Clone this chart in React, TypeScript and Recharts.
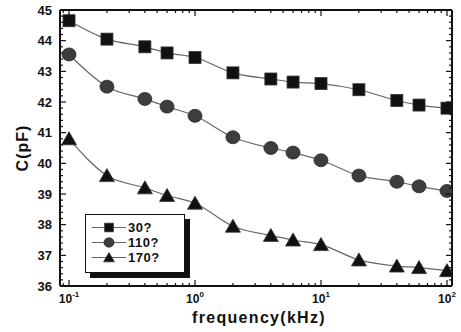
import React from 'react';
import { LineChart, Line, XAxis, YAxis } from 'recharts';

// frequency in kHz, capacitance in pF
const frequency = [0.1, 0.2, 0.4, 0.6, 1, 2, 4, 6, 10, 20, 40, 60, 100];
const c30 = [44.65, 44.05, 43.8, 43.6, 43.45, 42.95, 42.75, 42.65, 42.6, 42.4, 42.05, 41.9, 41.8];
const c110 = [43.55, 42.5, 42.1, 41.85, 41.55, 40.85, 40.5, 40.35, 40.1, 39.6, 39.4, 39.25, 39.1];
const c170 = [40.8, 39.6, 39.2, 38.95, 38.7, 37.95, 37.65, 37.5, 37.35, 36.85, 36.65, 36.6, 36.5];
const seriesNames = ['30?', '110?', '170?'];

const xMajorTicks = [0.1, 1, 10, 100];
const xTickExponents = ['-1', '0', '1', '2'];
const yMajorTicks = [36, 37, 38, 39, 40, 41, 42, 43, 44, 45];

const xMinorTicks: number[] = [0.09];
[0.1, 1, 10].forEach((d) => {
  for (let m = 2; m <= 9; m++) xMinorTicks.push(d * m);
});
const yMinorTicks: number[] = [];
yMajorTicks.slice(0, -1).forEach((v) => {
  for (let k = 1; k <= 4; k++) yMinorTicks.push(v + k * 0.2);
});

const xTicks = [...xMajorTicks, ...xMinorTicks].sort((a, b) => a - b);
const yTicks = [...yMajorTicks, ...yMinorTicks].sort((a, b) => a - b);

const data = frequency.map((f, i) => ({ f, c30: c30[i], c110: c110[i], c170: c170[i] }));

const FONT = '"Liberation Sans", Arial, sans-serif';
const INK = '#111';
const MAJOR = 6;
const MINOR = 3;

const isMajorX = (v: number) => xMajorTicks.indexOf(v) >= 0;
const isMajorY = (v: number) => yMajorTicks.indexOf(v) >= 0;

const BottomTick = ({ x, y, payload }: any) => {
  const v = payload.value;
  const idx = xMajorTicks.indexOf(v);
  const len = idx >= 0 ? MAJOR : MINOR;
  return (
    <g>
      <line x1={x} y1={y} x2={x} y2={y - len} stroke={INK} strokeWidth={1.2} />
      {idx >= 0 && (
        <text x={x} y={y + 17} textAnchor="middle" fontFamily={FONT} fontWeight="bold" fontSize={12} fill={INK}>
          10
          <tspan fontSize={8} dy={-6}>{xTickExponents[idx]}</tspan>
        </text>
      )}
    </g>
  );
};

const TopTick = ({ x, y, payload }: any) => {
  const len = isMajorX(payload.value) ? MAJOR : MINOR;
  return <line x1={x} y1={y} x2={x} y2={y + len} stroke={INK} strokeWidth={1.2} />;
};

const LeftTick = ({ x, y, payload }: any) => {
  const v = payload.value;
  const major = isMajorY(v);
  return (
    <g>
      <line x1={x} y1={y} x2={x + (major ? MAJOR : MINOR)} y2={y} stroke={INK} strokeWidth={1.2} />
      {major && (
        <text x={x - 8} y={y + 4.5} textAnchor="end" fontFamily={FONT} fontWeight="bold" fontSize={13} fill={INK}>
          {v}
        </text>
      )}
    </g>
  );
};

const RightTick = ({ x, y, payload }: any) => {
  const len = isMajorY(payload.value) ? MAJOR : MINOR;
  return <line x1={x} y1={y} x2={x - len} y2={y} stroke={INK} strokeWidth={1.2} />;
};

const SquareMark = ({ cx, cy, s = 1 }: any) => (
  <rect x={cx - 6 * s} y={cy - 6 * s} width={12 * s} height={12 * s} fill={INK} stroke="#333" strokeWidth={0.8} />
);
const CircleMark = ({ cx, cy, s = 1 }: any) => (
  <ellipse cx={cx} cy={cy} rx={7 * s} ry={6.5 * s} fill="#3d3d3d" stroke="#2a2a2a" strokeWidth={0.8} />
);
const TriangleMark = ({ cx, cy, s = 1 }: any) => (
  <polygon
    points={`${cx},${cy - 7 * s} ${cx + 7.5 * s},${cy + 6 * s} ${cx - 7.5 * s},${cy + 6 * s}`}
    fill={INK}
    stroke="#333"
    strokeWidth={0.8}
  />
);

const markers = [SquareMark, CircleMark, TriangleMark];
const keys = ['c30', 'c110', 'c170'];

const LegendBox = () => (
  <div
    style={{
      position: 'absolute',
      left: 85,
      top: 214,
      width: 100,
      height: 59,
      border: `1px solid ${INK}`,
      background: '#fff',
      boxShadow: `5px 5px 0 ${INK}`,
      paddingTop: 5,
      boxSizing: 'border-box',
    }}
  >
    {seriesNames.map((name, i) => {
      const Mark = markers[i];
      return (
        <div key={name} style={{ display: 'flex', alignItems: 'center', height: 15, marginLeft: 6 }}>
          <svg width={34} height={15}>
            <line x1={0} y1={7.5} x2={34} y2={7.5} stroke="#666" strokeWidth={1.2} />
            <Mark cx={17} cy={7.5} s={0.72} />
          </svg>
          <span style={{ fontFamily: FONT, fontWeight: 'bold', fontSize: 13, letterSpacing: 0.5, color: INK, marginLeft: 2 }}>
            {name}
          </span>
        </div>
      );
    })}
  </div>
);

export default function App() {
  return (
    <div style={{ position: 'absolute', left: 0, top: 0, width: 461, height: 332, background: '#fff' }}>
      <LineChart width={461} height={332} data={data} margin={{ top: 0, right: 0, bottom: 0, left: 0 }}>
        <XAxis
          xAxisId={0}
          dataKey="f"
          type="number"
          scale="log"
          domain={[0.0848, 109.6]}
          allowDataOverflow
          ticks={xTicks}
          interval={0}
          tickSize={0}
          tickMargin={0}
          height={46}
          axisLine={{ stroke: INK, strokeWidth: 2 }}
          tickLine={false}
          tick={<BottomTick />}
        />
        <XAxis
          xAxisId="top"
          orientation="top"
          dataKey="f"
          type="number"
          scale="log"
          domain={[0.0848, 109.6]}
          allowDataOverflow
          ticks={xTicks}
          interval={0}
          tickSize={0}
          tickMargin={0}
          height={10}
          axisLine={{ stroke: INK, strokeWidth: 2 }}
          tickLine={false}
          tick={<TopTick />}
        />
        <YAxis
          yAxisId={0}
          type="number"
          domain={[36, 45]}
          allowDataOverflow
          ticks={yTicks}
          interval={0}
          tickSize={0}
          tickMargin={0}
          width={60}
          axisLine={{ stroke: INK, strokeWidth: 2 }}
          tickLine={false}
          tick={<LeftTick />}
          label={{
            value: 'C(pF)',
            angle: -90,
            position: 'insideLeft',
            offset: 22,
            style: { fontFamily: FONT, fontWeight: 'bold', fontSize: 16, letterSpacing: 1, fill: INK, textAnchor: 'middle' },
          }}
        />
        <YAxis
          yAxisId="right"
          orientation="right"
          type="number"
          domain={[36, 45]}
          allowDataOverflow
          ticks={yTicks}
          interval={0}
          tickSize={0}
          tickMargin={0}
          width={9}
          axisLine={{ stroke: INK, strokeWidth: 2 }}
          tickLine={false}
          tick={<RightTick />}
        />
        {keys.map((k, i) => {
          const Mark = markers[i];
          return (
            <Line
              key={k}
              dataKey={k}
              name={seriesNames[i]}
              type="monotone"
              stroke="#666"
              strokeWidth={1.2}
              isAnimationActive={false}
              dot={(p: any) => <Mark key={`${k}-${p.index}`} cx={p.cx} cy={p.cy} />}
            />
          );
        })}
      </LineChart>
      <div
        style={{
          position: 'absolute',
          left: 259,
          top: 309,
          transform: 'translateX(-50%)',
          fontFamily: FONT,
          fontWeight: 'bold',
          fontSize: 16,
          letterSpacing: 1.3,
          color: INK,
          whiteSpace: 'nowrap',
        }}
      >
        frequency(kHz)
      </div>
      <LegendBox />
    </div>
  );
}
